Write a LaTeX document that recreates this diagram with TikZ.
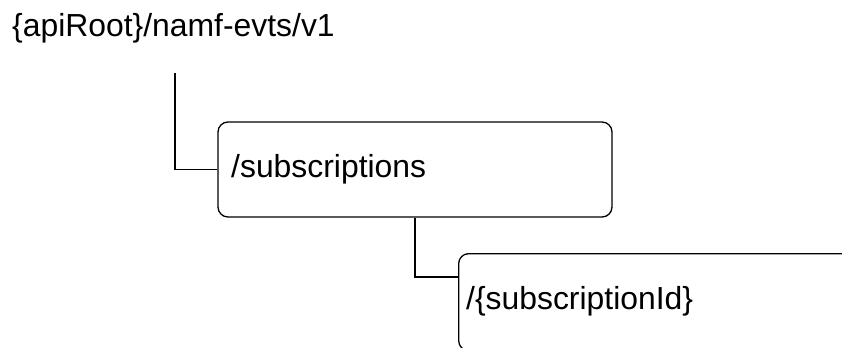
\documentclass[tikz,border=0pt]{standalone}
\usepackage{fontspec}
\setmainfont{Liberation Sans}
\begin{document}
\begin{tikzpicture}[x=1bp,y=-1bp,
  lbl/.style={inner sep=0pt, anchor=base west, font=\fontsize{32}{38}\selectfont},
  resbox/.style={draw, line width=1.3bp, rounded corners=10bp, inner sep=0pt},
  conn/.style={draw, line width=1.3bp}]
\useasboundingbox (0,0) rectangle (842,347);
\clip (0,0) rectangle (842,347);
\node[lbl] (root) at (12,36) {\{apiRoot\}/namf-evts/v1};
\node[resbox, minimum width=394bp, minimum height=95bp] (b1) at (415,169.5) {};
\node[lbl] (t1) at (231,177) {/subscriptions};
\node[resbox, anchor=north west, minimum width=440bp, minimum height=97bp] (b2) at (458,253) {};
\node[lbl] (t2) at (466,309) {/\{subscriptionId\}};
\coordinate (r1) at (175,73);
\coordinate (c2) at (458,277);
\draw[conn] (r1) |- (b1.west);
\draw[conn] (b1.south) |- (c2);
\end{tikzpicture}
\end{document}
